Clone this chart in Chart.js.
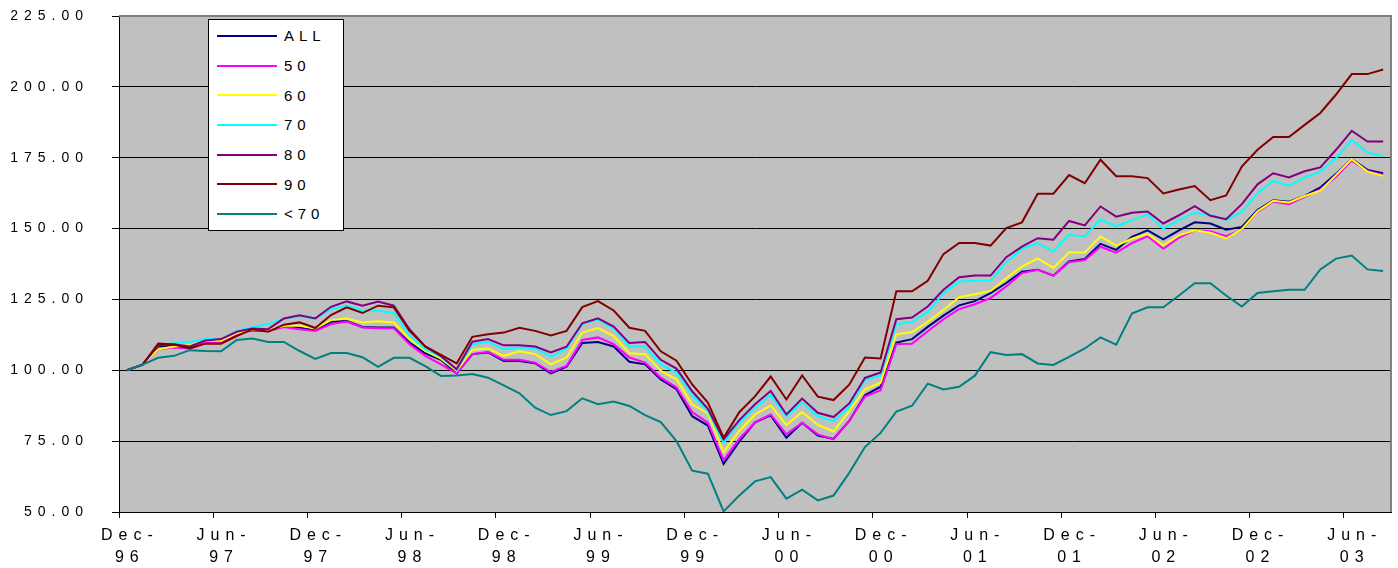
<!DOCTYPE html>
<html>
<head>
<meta charset="utf-8">
<script src="https://cdn.jsdelivr.net/npm/chart.js@4.4.1/dist/chart.umd.min.js"></script>
<style>
  html, body { margin: 0; padding: 0; background: #fff; }
  #wrap { position: relative; width: 1398px; height: 568px; }
  #legend {
    position: absolute; left: 208px; top: 19px;
    width: 134px; height: 209px; padding-top: 1px;
    background: #fff; border: 1px solid #000;
  }
  #legend .row { display: flex; align-items: center; height: 29.7px; }
  #legend .row i { display: block; width: 60px; height: 2px; margin: 0 7px 0 8px; }
  #legend .row span {
    font: 15px "Liberation Sans", Arial, sans-serif;
    letter-spacing: 5px; line-height: 1; color: #000;
  }
</style>
</head>
<body>
<div id="wrap">
  <canvas id="chart"></canvas>
  <div id="legend"></div>
</div>
<script>
// Monthly index levels, Dec-96 = 100
const categories = [
  'Dec-96',
  'Jan-97','Feb-97','Mar-97','Apr-97','May-97','Jun-97','Jul-97','Aug-97','Sep-97','Oct-97','Nov-97','Dec-97',
  'Jan-98','Feb-98','Mar-98','Apr-98','May-98','Jun-98','Jul-98','Aug-98','Sep-98','Oct-98','Nov-98','Dec-98',
  'Jan-99','Feb-99','Mar-99','Apr-99','May-99','Jun-99','Jul-99','Aug-99','Sep-99','Oct-99','Nov-99','Dec-99',
  'Jan-00','Feb-00','Mar-00','Apr-00','May-00','Jun-00','Jul-00','Aug-00','Sep-00','Oct-00','Nov-00','Dec-00',
  'Jan-01','Feb-01','Mar-01','Apr-01','May-01','Jun-01','Jul-01','Aug-01','Sep-01','Oct-01','Nov-01','Dec-01',
  'Jan-02','Feb-02','Mar-02','Apr-02','May-02','Jun-02','Jul-02','Aug-02','Sep-02','Oct-02','Nov-02','Dec-02',
  'Jan-03','Feb-03','Mar-03','Apr-03','May-03','Jun-03','Jul-03','Aug-03'
];

const seriesNames = ['ALL', '50', '60', '70', '80', '90', '<70'];

const seriesAll = [
  100.0, 102.0, 108.4, 108.8, 108.0, 110.4, 110.4, 113.1, 114.1, 113.9,
  115.7, 115.1, 114.1, 117.1, 117.4, 115.3, 115.1, 115.1, 109.8, 106.0,
  103.7, 98.9, 105.7, 106.3, 103.3, 103.3, 102.5, 98.9, 101.3, 109.6,
  110.0, 108.4, 103.0, 102.1, 96.8, 93.3, 83.8, 80.5, 67.0, 74.8,
  81.6, 84.1, 76.2, 81.5, 77.0, 75.8, 82.1, 91.2, 94.2, 109.8,
  111.0, 115.3, 119.3, 122.9, 124.4, 127.2, 130.8, 134.8, 135.5, 133.4,
  138.4, 139.3, 144.6, 142.5, 147.1, 149.4, 146.2, 149.4, 152.2, 151.8,
  149.6, 150.6, 156.5, 160.0, 159.5, 161.5, 164.5, 169.3, 174.5, 170.7, 169.5
];
const series50 = [
  100.0, 102.0, 107.4, 108.0, 107.7, 109.8, 109.8, 112.7, 114.1, 113.9,
  115.3, 114.5, 113.9, 116.3, 117.2, 115.1, 114.8, 114.8, 109.2, 105.1,
  102.1, 98.9, 105.7, 106.5, 103.7, 103.7, 102.7, 99.4, 101.5, 110.7,
  111.6, 109.2, 104.5, 102.7, 97.4, 93.9, 85.3, 81.5, 68.3, 75.8,
  81.6, 84.4, 77.4, 81.5, 77.4, 75.6, 82.1, 90.7, 93.0, 109.3,
  109.4, 113.8, 118.0, 121.6, 123.3, 125.5, 129.6, 134.3, 135.5, 133.4,
  138.1, 138.9, 143.6, 141.5, 144.9, 147.3, 142.9, 146.8, 149.4, 149.1,
  147.3, 149.6, 155.9, 159.5, 158.6, 161.2, 163.8, 168.3, 174.0, 170.3, 168.9
];
const series60 = [
  100.0, 102.0, 107.4, 108.4, 108.8, 110.4, 110.4, 113.1, 114.5, 114.3,
  115.7, 115.7, 114.8, 117.7, 118.3, 116.9, 117.3, 116.9, 111.0, 106.8,
  104.1, 99.8, 107.2, 107.7, 105.1, 106.7, 105.7, 102.1, 104.5, 113.3,
  114.9, 112.1, 106.0, 105.7, 99.8, 96.8, 88.0, 84.8, 71.1, 78.6,
  84.4, 87.6, 80.7, 85.3, 80.7, 78.4, 85.6, 93.3, 95.6, 112.7,
  113.5, 117.1, 121.3, 125.8, 126.8, 128.0, 132.5, 136.6, 139.5, 136.1,
  141.6, 141.6, 147.2, 144.0, 146.4, 148.1, 144.1, 147.6, 149.4, 148.5,
  146.5, 149.8, 156.1, 159.8, 159.2, 161.5, 163.4, 168.9, 174.5, 170.1, 168.6
];
const series70 = [
  100.0, 102.0, 108.8, 109.5, 110.0, 111.0, 111.0, 113.9, 115.3, 116.3,
  118.3, 119.0, 118.3, 121.6, 122.8, 121.0, 121.0, 120.2, 112.3, 107.4,
  104.8, 100.1, 109.2, 110.0, 107.4, 108.0, 107.7, 104.8, 107.7, 116.3,
  118.0, 114.7, 108.4, 108.4, 102.1, 99.2, 91.2, 85.6, 74.4, 81.6,
  86.8, 91.2, 83.8, 88.6, 83.8, 82.1, 87.1, 96.6, 98.2, 116.3,
  117.0, 120.6, 127.2, 131.3, 131.6, 131.6, 138.1, 142.8, 144.9, 141.9,
  147.8, 147.2, 153.2, 150.8, 152.9, 155.0, 150.0, 153.0, 155.6, 154.7,
  153.0, 155.9, 162.4, 166.8, 165.1, 168.0, 170.1, 174.8, 181.3, 176.8, 175.6
];
const series80 = [
  100.0, 102.0, 108.8, 109.2, 108.4, 110.5, 111.0, 113.6, 114.7, 114.5,
  118.3, 119.4, 118.3, 122.4, 124.3, 122.8, 124.3, 122.8, 114.5, 108.4,
  105.0, 100.4, 110.1, 111.0, 108.8, 108.8, 108.4, 106.3, 108.3, 116.6,
  118.3, 115.4, 109.6, 110.0, 103.7, 100.6, 92.6, 86.4, 75.6, 82.4,
  88.0, 92.7, 84.4, 90.0, 85.0, 83.5, 88.3, 97.3, 99.2, 118.0,
  118.6, 122.5, 128.4, 132.8, 133.4, 133.4, 139.9, 143.6, 146.6, 146.1,
  152.7, 151.1, 157.8, 154.2, 155.6, 156.0, 151.8, 154.7, 157.9, 154.5,
  153.3, 158.6, 165.6, 169.5, 168.0, 170.2, 171.6, 177.8, 184.5, 180.7, 180.7
];
const series90 = [
  100.0, 102.0, 109.4, 109.1, 107.7, 109.4, 109.4, 112.1, 114.5, 113.6,
  116.1, 116.9, 114.9, 119.5, 122.2, 120.2, 122.8, 122.2, 113.9, 108.4,
  105.4, 102.4, 111.8, 112.7, 113.3, 115.0, 113.9, 112.3, 113.9, 122.3,
  124.4, 121.1, 115.0, 113.9, 106.7, 103.4, 95.0, 88.6, 76.2, 85.2,
  90.8, 97.8, 89.7, 98.2, 90.7, 89.5, 94.9, 104.5, 104.2, 127.9,
  127.9, 131.6, 141.0, 144.9, 144.9, 144.0, 150.2, 152.2, 162.3, 162.3,
  168.9, 166.0, 174.3, 168.5, 168.5, 167.8, 162.4, 163.8, 165.0, 160.0,
  161.7, 171.9, 177.8, 182.3, 182.3, 186.6, 190.8, 197.3, 204.5, 204.5, 206.1
];
const seriesUnder70 = [
  100.0, 102.0, 104.4, 105.1, 107.1, 106.8, 106.7, 110.7, 111.2, 110.0,
  110.0, 106.8, 104.0, 106.1, 106.1, 104.6, 101.2, 104.4, 104.4, 101.5,
  98.0, 98.2, 98.7, 97.4, 94.7, 91.9, 86.8, 84.2, 85.6, 90.1,
  88.0, 89.0, 87.4, 84.2, 81.7, 75.0, 64.6, 63.5, 50.2, 55.8,
  60.8, 62.3, 54.7, 57.9, 54.1, 55.8, 63.8, 72.9, 77.9, 85.4,
  87.5, 95.3, 93.2, 94.2, 98.1, 106.4, 105.4, 105.7, 102.4, 101.9,
  104.7, 107.7, 111.6, 109.0, 120.0, 122.2, 122.2, 126.4, 130.7, 130.7,
  126.4, 122.5, 127.3, 127.9, 128.4, 128.4, 135.6, 139.4, 140.5, 135.6, 135.0
];

const seriesValues = [seriesAll, series50, series60, series70, series80, series90, seriesUnder70];
const seriesColors = ['#000080', '#ff00ff', '#ffff00', '#00ffff', '#800080', '#800000', '#008080'];

const yMin = 50, yMax = 225, yStep = 25;
const labelEvery = 6;

const FONT = '"Liberation Sans", Arial, sans-serif';
const SPACING = '6px';

// grey plot area, frame on top/right, spaced-out tick text
const plotFrame = {
    id: 'plotFrame',
    beforeUpdate(chart) {
        chart.ctx.letterSpacing = SPACING;
    },
    beforeDraw(chart) {
        const { ctx, chartArea: a } = chart;
        ctx.letterSpacing = SPACING;
        ctx.save();
        ctx.fillStyle = '#c0c0c0';
        ctx.fillRect(a.left, a.top, a.right - a.left, a.bottom - a.top);
        ctx.restore();
    },
    afterDraw(chart) {
        const { ctx, chartArea: a } = chart;
        ctx.save();
        ctx.strokeStyle = '#808080';
        ctx.lineWidth = 2;
        ctx.beginPath();
        ctx.moveTo(a.left, a.top);
        ctx.lineTo(a.right, a.top);
        ctx.lineTo(a.right, a.bottom);
        ctx.stroke();
        ctx.restore();
    }
};

const datasets = seriesNames.map((name, i) => ({
    label: name,
    data: seriesValues[i],
    borderColor: seriesColors[i],
    backgroundColor: seriesColors[i],
    borderWidth: 2,
    pointRadius: 0,
    tension: 0,
    fill: false,
    order: seriesNames.length - i   // later series drawn on top
}));

const chart = new Chart(document.getElementById('chart'), {
    type: 'line',
    data: { labels: categories, datasets: datasets },
    options: {
        responsive: true,
        maintainAspectRatio: false,
        animation: false,
        events: [],
        layout: { padding: { left: 0, top: 16, right: 7, bottom: 0 } },
        plugins: { legend: { display: false }, tooltip: { enabled: false } },
        scales: {
            x: {
                offset: true,
                afterFit: s => {
                    s.height = 56;
                    s.paddingLeft = 0;
                    s.paddingRight = 0;
                },
                border: { color: '#000', width: 1 },
                grid: {
                    offset: true,
                    drawOnChartArea: false,
                    tickLength: 6,
                    color: c => (c.index % labelEvery === 0 ? '#000' : 'rgba(0,0,0,0)')
                },
                ticks: {
                    autoSkip: false,
                    maxRotation: 0,
                    padding: 7,
                    labelOffset: 3,
                    color: '#000',
                    font: { family: FONT, size: 16, lineHeight: 1.375 },
                    callback: function (value, index) {
                        if (index % labelEvery !== 0) return '';
                        const parts = this.getLabelForValue(value).split('-');
                        return [parts[0] + '-', parts[1]];
                    }
                }
            },
            y: {
                min: yMin,
                max: yMax,
                afterFit: s => {
                    s.width = 119;
                    s.paddingTop = 0;
                    s.paddingBottom = 0;
                },
                border: { color: '#000', width: 1 },
                grid: { color: '#000', lineWidth: 1, tickLength: 7 },
                ticks: {
                    stepSize: yStep,
                    padding: 23,
                    color: '#000',
                    font: { family: FONT, size: 14 },
                    callback: v => v.toFixed(2)
                }
            }
        }
    },
    plugins: [plotFrame]
});

// legend box drawn in HTML from the chart's datasets
const legendEl = document.getElementById('legend');
chart.data.datasets.forEach(ds => {
    const row = document.createElement('div');
    row.className = 'row';
    const swatch = document.createElement('i');
    swatch.style.background = ds.borderColor;
    const text = document.createElement('span');
    text.textContent = ds.label;
    row.appendChild(swatch);
    row.appendChild(text);
    legendEl.appendChild(row);
});
</script>
</body>
</html>
